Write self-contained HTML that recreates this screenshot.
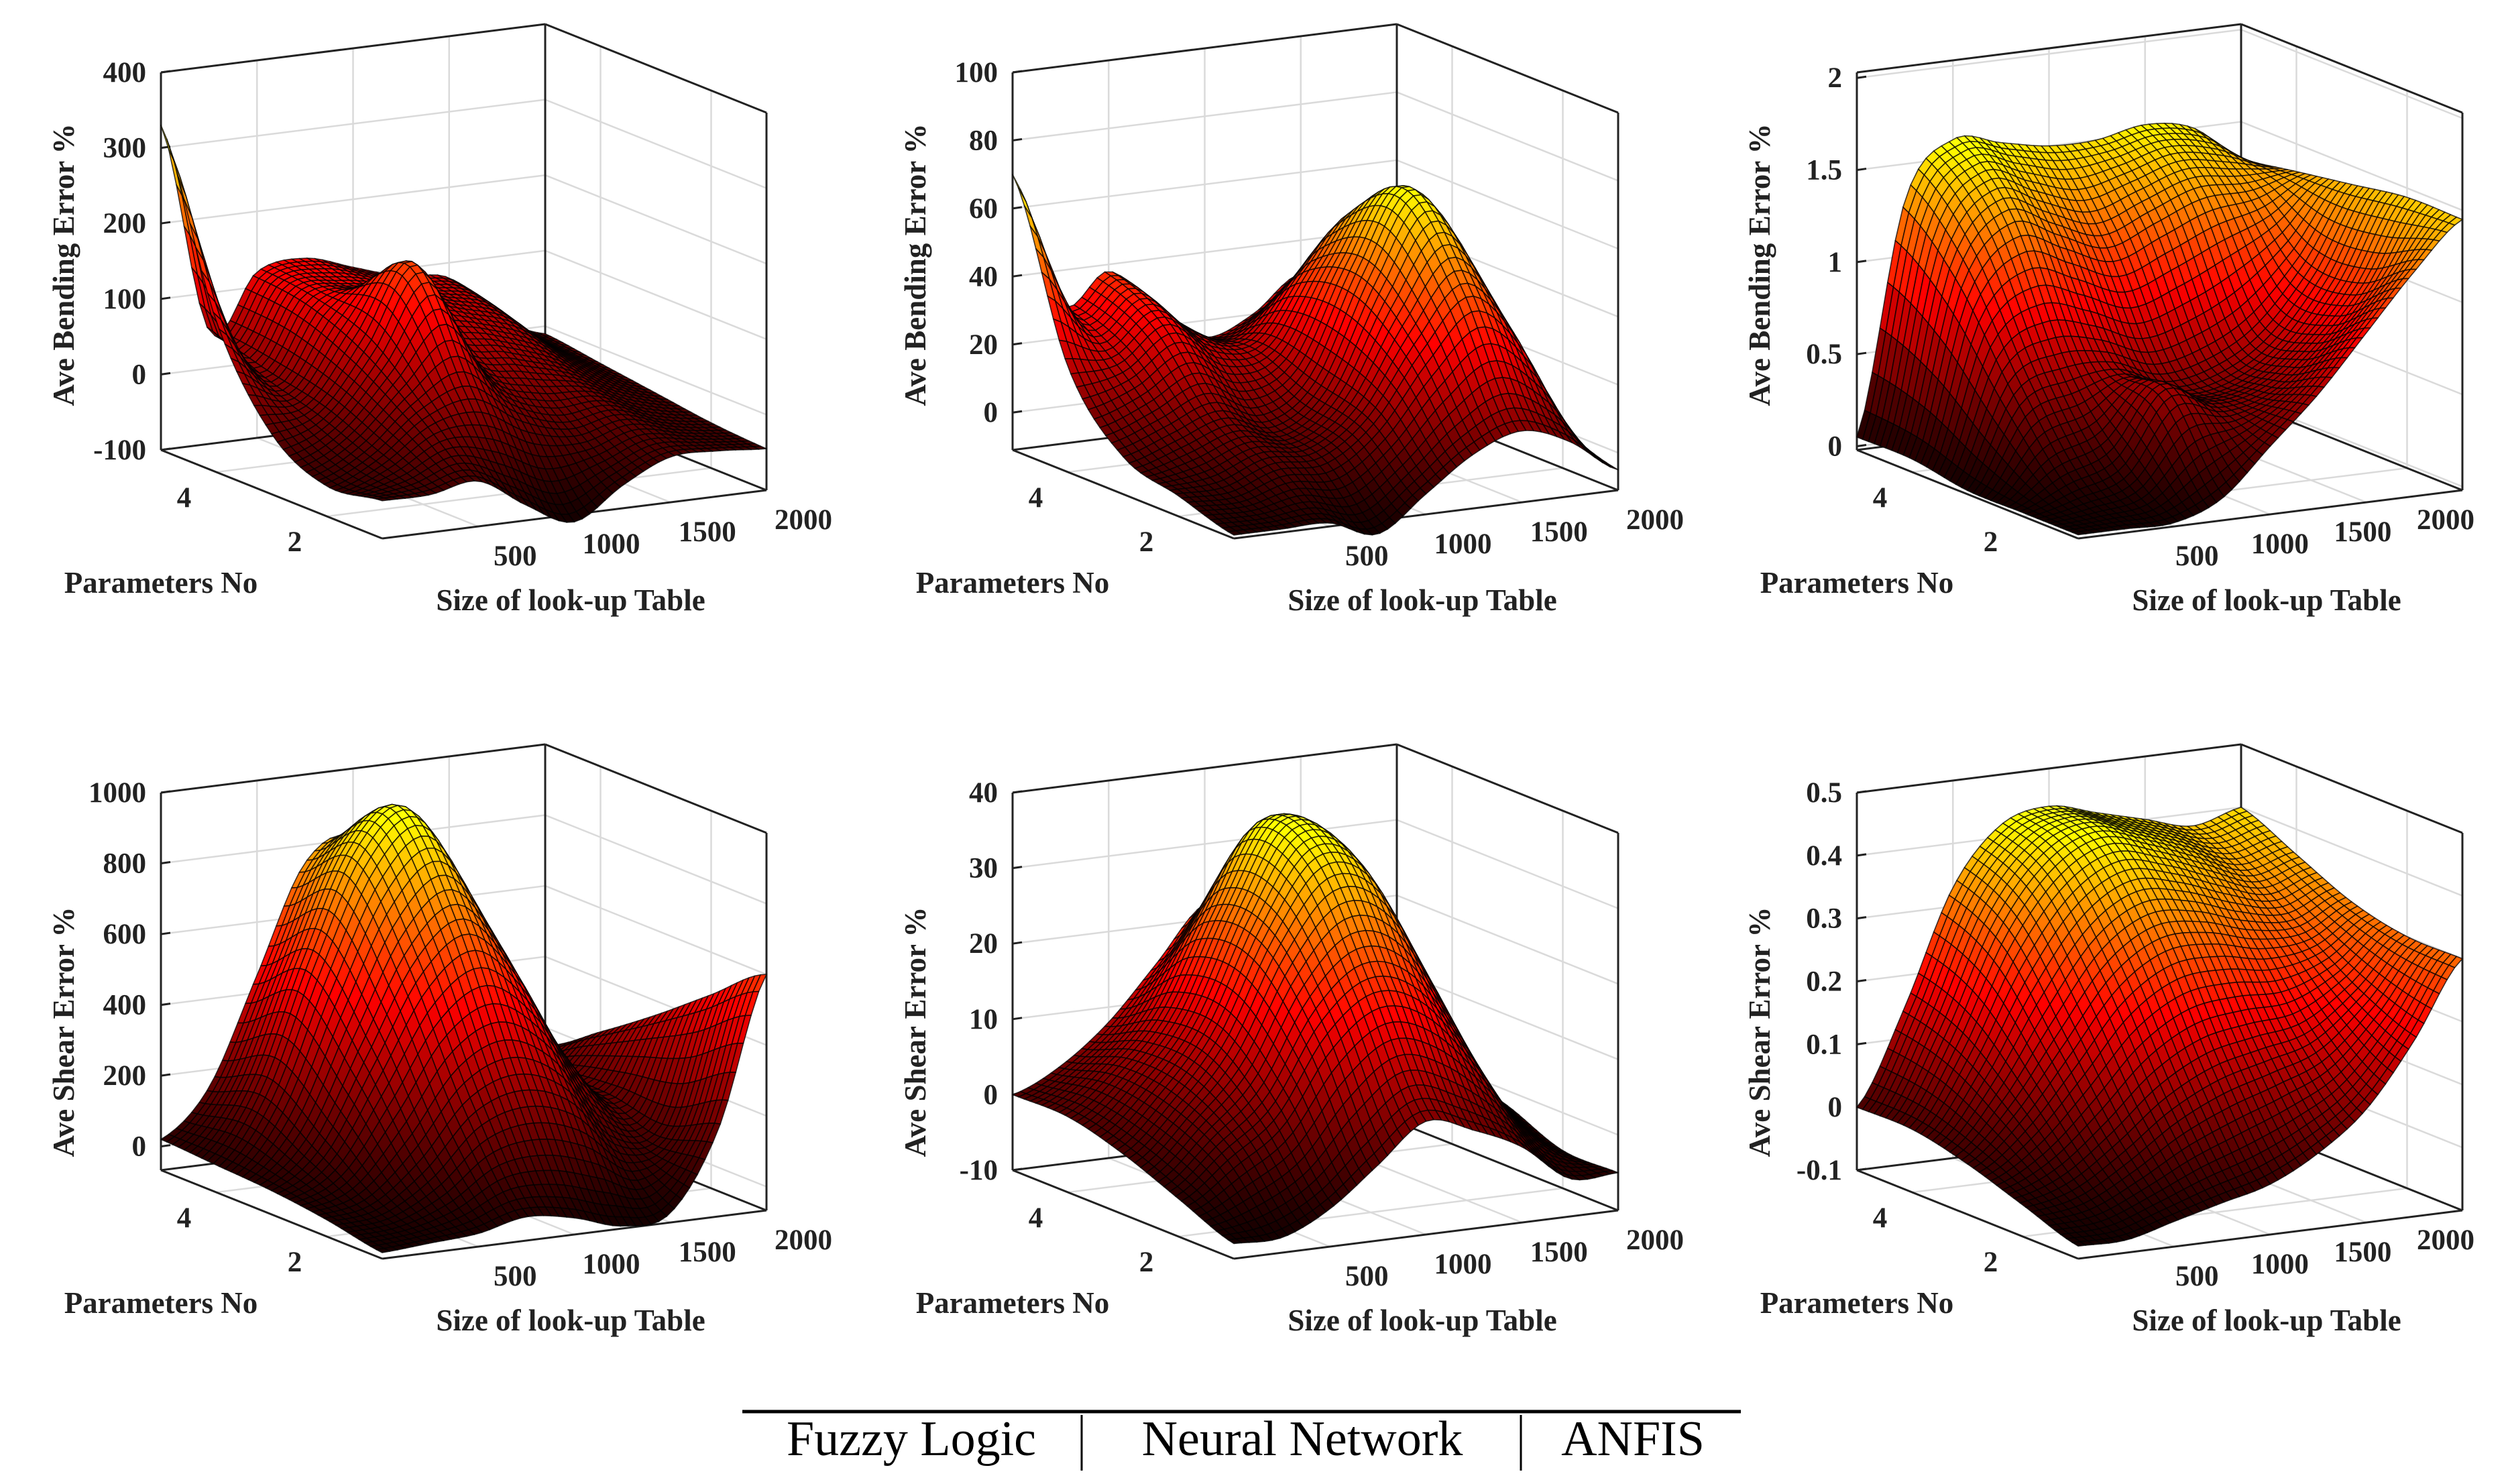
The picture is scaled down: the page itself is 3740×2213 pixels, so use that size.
<!DOCTYPE html>
<html><head><meta charset="utf-8">
<style>
html,body{margin:0;padding:0;background:#fff;}
svg{display:block;}
text{font-family:"Liberation Serif",serif;}
</style></head>
<body>
<svg id="fig" width="3740" height="2213" viewBox="0 0 3740 2213" xmlns="http://www.w3.org/2000/svg">
<rect width="3740" height="2213" fill="#fff"/>
<g id="plots"></g>
<g>
<line x1="1107" y1="2105" x2="2596" y2="2105" stroke="#000" stroke-width="5"/>
<line x1="1613" y1="2110" x2="1613" y2="2193" stroke="#000" stroke-width="3"/>
<line x1="2268" y1="2110" x2="2268" y2="2193" stroke="#000" stroke-width="3"/>
<text x="1359" y="2170" font-size="74" text-anchor="middle">Fuzzy Logic</text>
<text x="1942" y="2170" font-size="74" text-anchor="middle">Neural Network</text>
<text x="2435" y="2170" font-size="74" text-anchor="middle">ANFIS</text>
</g>
</svg>
<script>
// ---- data ----
const sizes = [0, 250, 500, 750, 1000, 1250, 1500, 1750, 2000];
const params = [1, 2, 3, 4, 5];
// rows: params 1..5, cols: sizes
const bendFuzzy = [
 [-50, -50, -40, -80, -110, -70, -40, -40, -45],
 [-60, -30, 20, 40, 0, -20, -10, -30, -40],
 [-20, 0, 80, 180, 60, 40, 20, -10, -30],
 [100, 20, 110, 120, 100, 80, 60, 10, -20],
 [330, 50, 120, 130, 110, 90, 80, 20, -10]
];
const bendNN = [
 [-10, -10, -10, -15, -5, 5, 10, 5, -5],
 [-5, -5, 0, 0, 10, 30, 45, 30, 0],
 [0, 5, 10, 5, 15, 45, 68, 45, 5],
 [20, 20, 30, 20, 20, 40, 55, 35, 5],
 [70, 30, 38, 25, 15, 20, 30, 20, 5]
];
const bendANFIS = [
 [0, 0, 0.0, 0.1, 0.35, 0.6, 0.9, 1.2, 1.45],
 [0, 0.1, 0.2, 0.55, 0.45, 0.5, 0.7, 1.0, 1.45],
 [0, 0.5, 0.6, 0.6, 0.5, 0.55, 0.7, 1.0, 1.4],
 [0.05, 1.0, 1.3, 1.2, 1.1, 1.2, 1.3, 1.3, 1.35],
 [0.05, 1.3, 1.6, 1.55, 1.5, 1.5, 1.55, 1.5, 1.3]
];
const shearFuzzy = [
 [-50, -40, -30, 0, -20, -60, -40, 180, 600],
 [-20, 0, 100, 250, 300, 250, 100, 120, 480],
 [0, 100, 350, 600, 700, 550, 300, 150, 360],
 [10, 200, 550, 850, 950, 700, 350, 150, 250],
 [20, 150, 450, 750, 800, 550, 250, 100, 150]
];
const shearNN = [
 [-8, -8, -5, 0, 5, 3, 0, -5, -5],
 [-5, 0, 5, 15, 20, 18, 10, 0, -5],
 [-2, 4, 12, 25, 34, 32, 20, 6, -2],
 [0, 5, 12, 25, 36, 33, 20, 8, 0],
 [0, 3, 8, 15, 22, 20, 12, 5, 0]
];
const shearANFIS = [
 [-0.08, -0.08, -0.06, -0.04, -0.02, 0.02, 0.08, 0.18, 0.30],
 [-0.05, -0.03, 0.02, 0.08, 0.12, 0.14, 0.16, 0.22, 0.30],
 [-0.02, 0.05, 0.15, 0.25, 0.30, 0.30, 0.28, 0.28, 0.32],
 [0, 0.12, 0.28, 0.38, 0.42, 0.40, 0.37, 0.34, 0.36],
 [0, 0.15, 0.33, 0.42, 0.44, 0.42, 0.40, 0.38, 0.40]
];
const zTicks1 = [-100, 0, 100, 200, 300, 400];
const zTicks2 = [0, 20, 40, 60, 80, 100];
const zTicks3 = [0, 0.5, 1, 1.5, 2];
const zTicks4 = [0, 200, 400, 600, 800, 1000];
const zTicks5 = [-10, 0, 10, 20, 30, 40];
const zTicks6 = [-0.1, 0, 0.1, 0.2, 0.3, 0.4, 0.5];
const sizeTicks = [500, 1000, 1500, 2000];
const paramTicks = [2, 4];

const panels = [
 {name:'bending-fuzzy', data:bendFuzzy, ticks:zTicks1, zmin:-100, zmax:400, col:0, row:0, title:'Ave Bending Error %'},
 {name:'bending-neural-network', data:bendNN, ticks:zTicks2, zmin:-11, zmax:100, col:1, row:0, title:'Ave Bending Error %'},
 {name:'bending-anfis', data:bendANFIS, ticks:zTicks3, zmin:-0.02, zmax:2.03, col:2, row:0, title:'Ave Bending Error %'},
 {name:'shear-fuzzy', data:shearFuzzy, ticks:zTicks4, zmin:-67, zmax:1000, col:0, row:1, title:'Ave Shear Error %'},
 {name:'shear-neural-network', data:shearNN, ticks:zTicks5, zmin:-10, zmax:40, col:1, row:1, title:'Ave Shear Error %'},
 {name:'shear-anfis', data:shearANFIS, ticks:zTicks6, zmin:-0.1, zmax:0.5, col:2, row:1, title:'Ave Shear Error %'}
];

const NS = 'http://www.w3.org/2000/svg';
const root = document.getElementById('plots');
function mk(tag, attrs, parent){
  const e = document.createElementNS(NS, tag);
  for (const k in attrs) e.setAttribute(k, attrs[k]);
  (parent||root).appendChild(e);
  return e;
}
function cr(arr, t){
  const n = arr.length;
  let i = Math.floor(t); if (i >= n-1) i = n-2; if (i < 0) i = 0;
  const f = t - i;
  const p0 = arr[Math.max(i-1,0)], p1 = arr[i], p2 = arr[Math.min(i+1,n-1)], p3 = arr[Math.min(i+2,n-1)];
  return 0.5*((2*p1) + (-p0+p2)*f + (2*p0-5*p1+4*p2-p3)*f*f + (-p0+3*p1-3*p2+p3)*f*f*f);
}
function sample(data, sz, p){
  const ts = (sz - sizes[0])/(sizes[sizes.length-1]-sizes[0])*(sizes.length-1);
  const tp = (p - params[0])/(params[params.length-1]-params[0])*(params.length-1);
  const col = data.map(r => cr(r, ts));
  return cr(col, tp);
}
function hot(t){
  t = Math.max(0, Math.min(1, t));
  const r = Math.min(1, t/0.375), g = Math.max(0, Math.min(1, (t-0.375)/0.375)), b = Math.max(0, Math.min(1,(t-0.75)/0.25));
  return 'rgb('+Math.round(r*255)+','+Math.round(g*255)+','+Math.round(b*255)+')';
}
function fmt(v){ return (Math.round(v*1000)/1000).toString(); }

panels.forEach(pn => {
  const ox = [0,1270,2529][pn.col], oy = [0,1074][pn.row];
  const F = {x:570+ox, y:803+oy}, R = {x:1143+ox, y:731+oy}, L = {x:240+ox, y:671+oy}, H = 563;
  const sMin = 0, sMax = 2000, pMin = 1, pMax = 5;
  const sx = s => (s - sMin)/(sMax - sMin);
  const pv = p => (p - pMin)/(pMax - pMin);
  function P(u, v, z){
    return [F.x + u*(R.x-F.x) + v*(L.x-F.x), F.y + u*(R.y-F.y) + v*(L.y-F.y) - (z-pn.zmin)/(pn.zmax-pn.zmin)*H];
  }
  const g = mk('g', {});
  
  
  const grid = mk('g', {stroke:'#dadada','stroke-width':2.5,fill:'none'}, g);
  
  
  function line(a, b, parent){ return mk('line', {x1:a[0],y1:a[1],x2:b[0],y2:b[1]}, parent); }
  sizeTicks.forEach(s => { const u = sx(s);
    line(P(u,1,pn.zmin), P(u,1,pn.zmax), grid); line(P(u,0,pn.zmin), P(u,1,pn.zmin), grid); });
  paramTicks.forEach(p => { const v = pv(p);
    line(P(1,v,pn.zmin), P(1,v,pn.zmax), grid); line(P(0,v,pn.zmin), P(1,v,pn.zmin), grid); });
  pn.ticks.forEach(z => { line(P(0,1,z), P(1,1,z), grid); line(P(1,1,z), P(1,0,z), grid); });
  const box = mk('g', {stroke:'#222','stroke-width':3,fill:'none'}, g);
  
  
  line(P(0,1,pn.zmin), P(0,1,pn.zmax), box);
  line(P(1,1,pn.zmin), P(1,1,pn.zmax), box);
  line(P(1,0,pn.zmin), P(1,0,pn.zmax), box);
  line(P(0,1,pn.zmax), P(1,1,pn.zmax), box);
  line(P(1,1,pn.zmax), P(1,0,pn.zmax), box);
  line(P(0,1,pn.zmin), P(1,1,pn.zmin), box);
  line(P(1,1,pn.zmin), P(1,0,pn.zmin), box);
  line(P(0,1,pn.zmin), P(0,0,pn.zmin), box);
  line(P(0,0,pn.zmin), P(1,0,pn.zmin), box);
  const NU = 50, NV = 38;
  const Z = [];
  let lo = Infinity, hi = -Infinity;
  for (let j=0;j<=NV;j++){ Z.push([]); for (let i=0;i<=NU;i++){
    const z = sample(pn.data, sMin + (sMax-sMin)*i/NU, pMin + (pMax-pMin)*j/NV);
    Z[j].push(z); lo = Math.min(lo,z); hi = Math.max(hi,z); } }
  const cells = [];
  for (let j=0;j<NV;j++) for (let i=0;i<NU;i++) cells.push([i,j,(i+0.5)/NU + (j+0.5)/NV]);
  cells.sort((a,b)=>b[2]-a[2]);
  const surf = mk('g', {stroke:'rgba(0,0,0,0.75)','stroke-width':1.6,'stroke-linejoin':'round'}, g);
  
  
  cells.forEach(c => {
    const i=c[0], j=c[1];
    const a=P(i/NU,j/NV,Z[j][i]), b=P((i+1)/NU,j/NV,Z[j][i+1]), e=P((i+1)/NU,(j+1)/NV,Z[j+1][i+1]), f=P(i/NU,(j+1)/NV,Z[j+1][i]);
    const zm = (Z[j][i]+Z[j][i+1]+Z[j+1][i+1]+Z[j+1][i])/4;
    const fr = (zm-lo)/(hi-lo);
    const t = 0.03 + 0.74*Math.pow(Math.max(0,fr),1.25);
    const poly = mk('polygon', {points:[a,b,e,f].map(q=>q[0].toFixed(1)+','+q[1].toFixed(1)).join(' '), fill:hot(t)}, surf);
    
    
  });
  pn.ticks.forEach(z => {
    const q = P(0,1,z);
    line(q, [q[0]+14, q[1]-2], box);
    const t = mk('text', {x:q[0]-22, y:q[1]+14, 'font-size':43, 'font-weight':'bold', 'text-anchor':'end', fill:'#222'}, g);
    
    
    t.textContent = fmt(z);
  });
  paramTicks.forEach(p => {
    const q = P(0,pv(p),pn.zmin);
    const t = mk('text', {x:q[0]-48, y:q[1]+52, 'font-size':43, 'font-weight':'bold', 'text-anchor':'middle', fill:'#222'}, g);
    
    
    t.textContent = p;
  });
  sizeTicks.forEach(s => {
    const u = sx(s);
    const q = P(u,0,pn.zmin);
    const dx = pn.col === 2 ? 34 - 59*(u-0.25)/0.75 : 55;
    const t = mk('text', {x:q[0]+dx, y:q[1]+58, 'font-size':43, 'font-weight':'bold', 'text-anchor':'middle', fill:'#222'}, g);
    
    
    t.textContent = s;
  });
  const t1 = mk('text', {x:240+ox, y:884+oy, 'font-size':45, 'font-weight':'bold', 'text-anchor':'middle', fill:'#222'}, g);
  
  
  t1.textContent = 'Parameters No';
  const t2 = mk('text', {x:851+ox, y:910+oy, 'font-size':45, 'font-weight':'bold', 'text-anchor':'middle', fill:'#222'}, g);
  
  
  t2.textContent = 'Size of look-up Table';
  const zy = 395 + oy + (pn.row ? 70 : 0);
  const t3 = mk('text', {x:0, y:0, 'font-size':45, 'font-weight':'bold', 'text-anchor':'middle', fill:'#222', transform:'translate('+(110+ox)+','+zy+') rotate(-90)'}, g);
  
  
  t3.textContent = pn.title;
});
</script>
</body></html>
